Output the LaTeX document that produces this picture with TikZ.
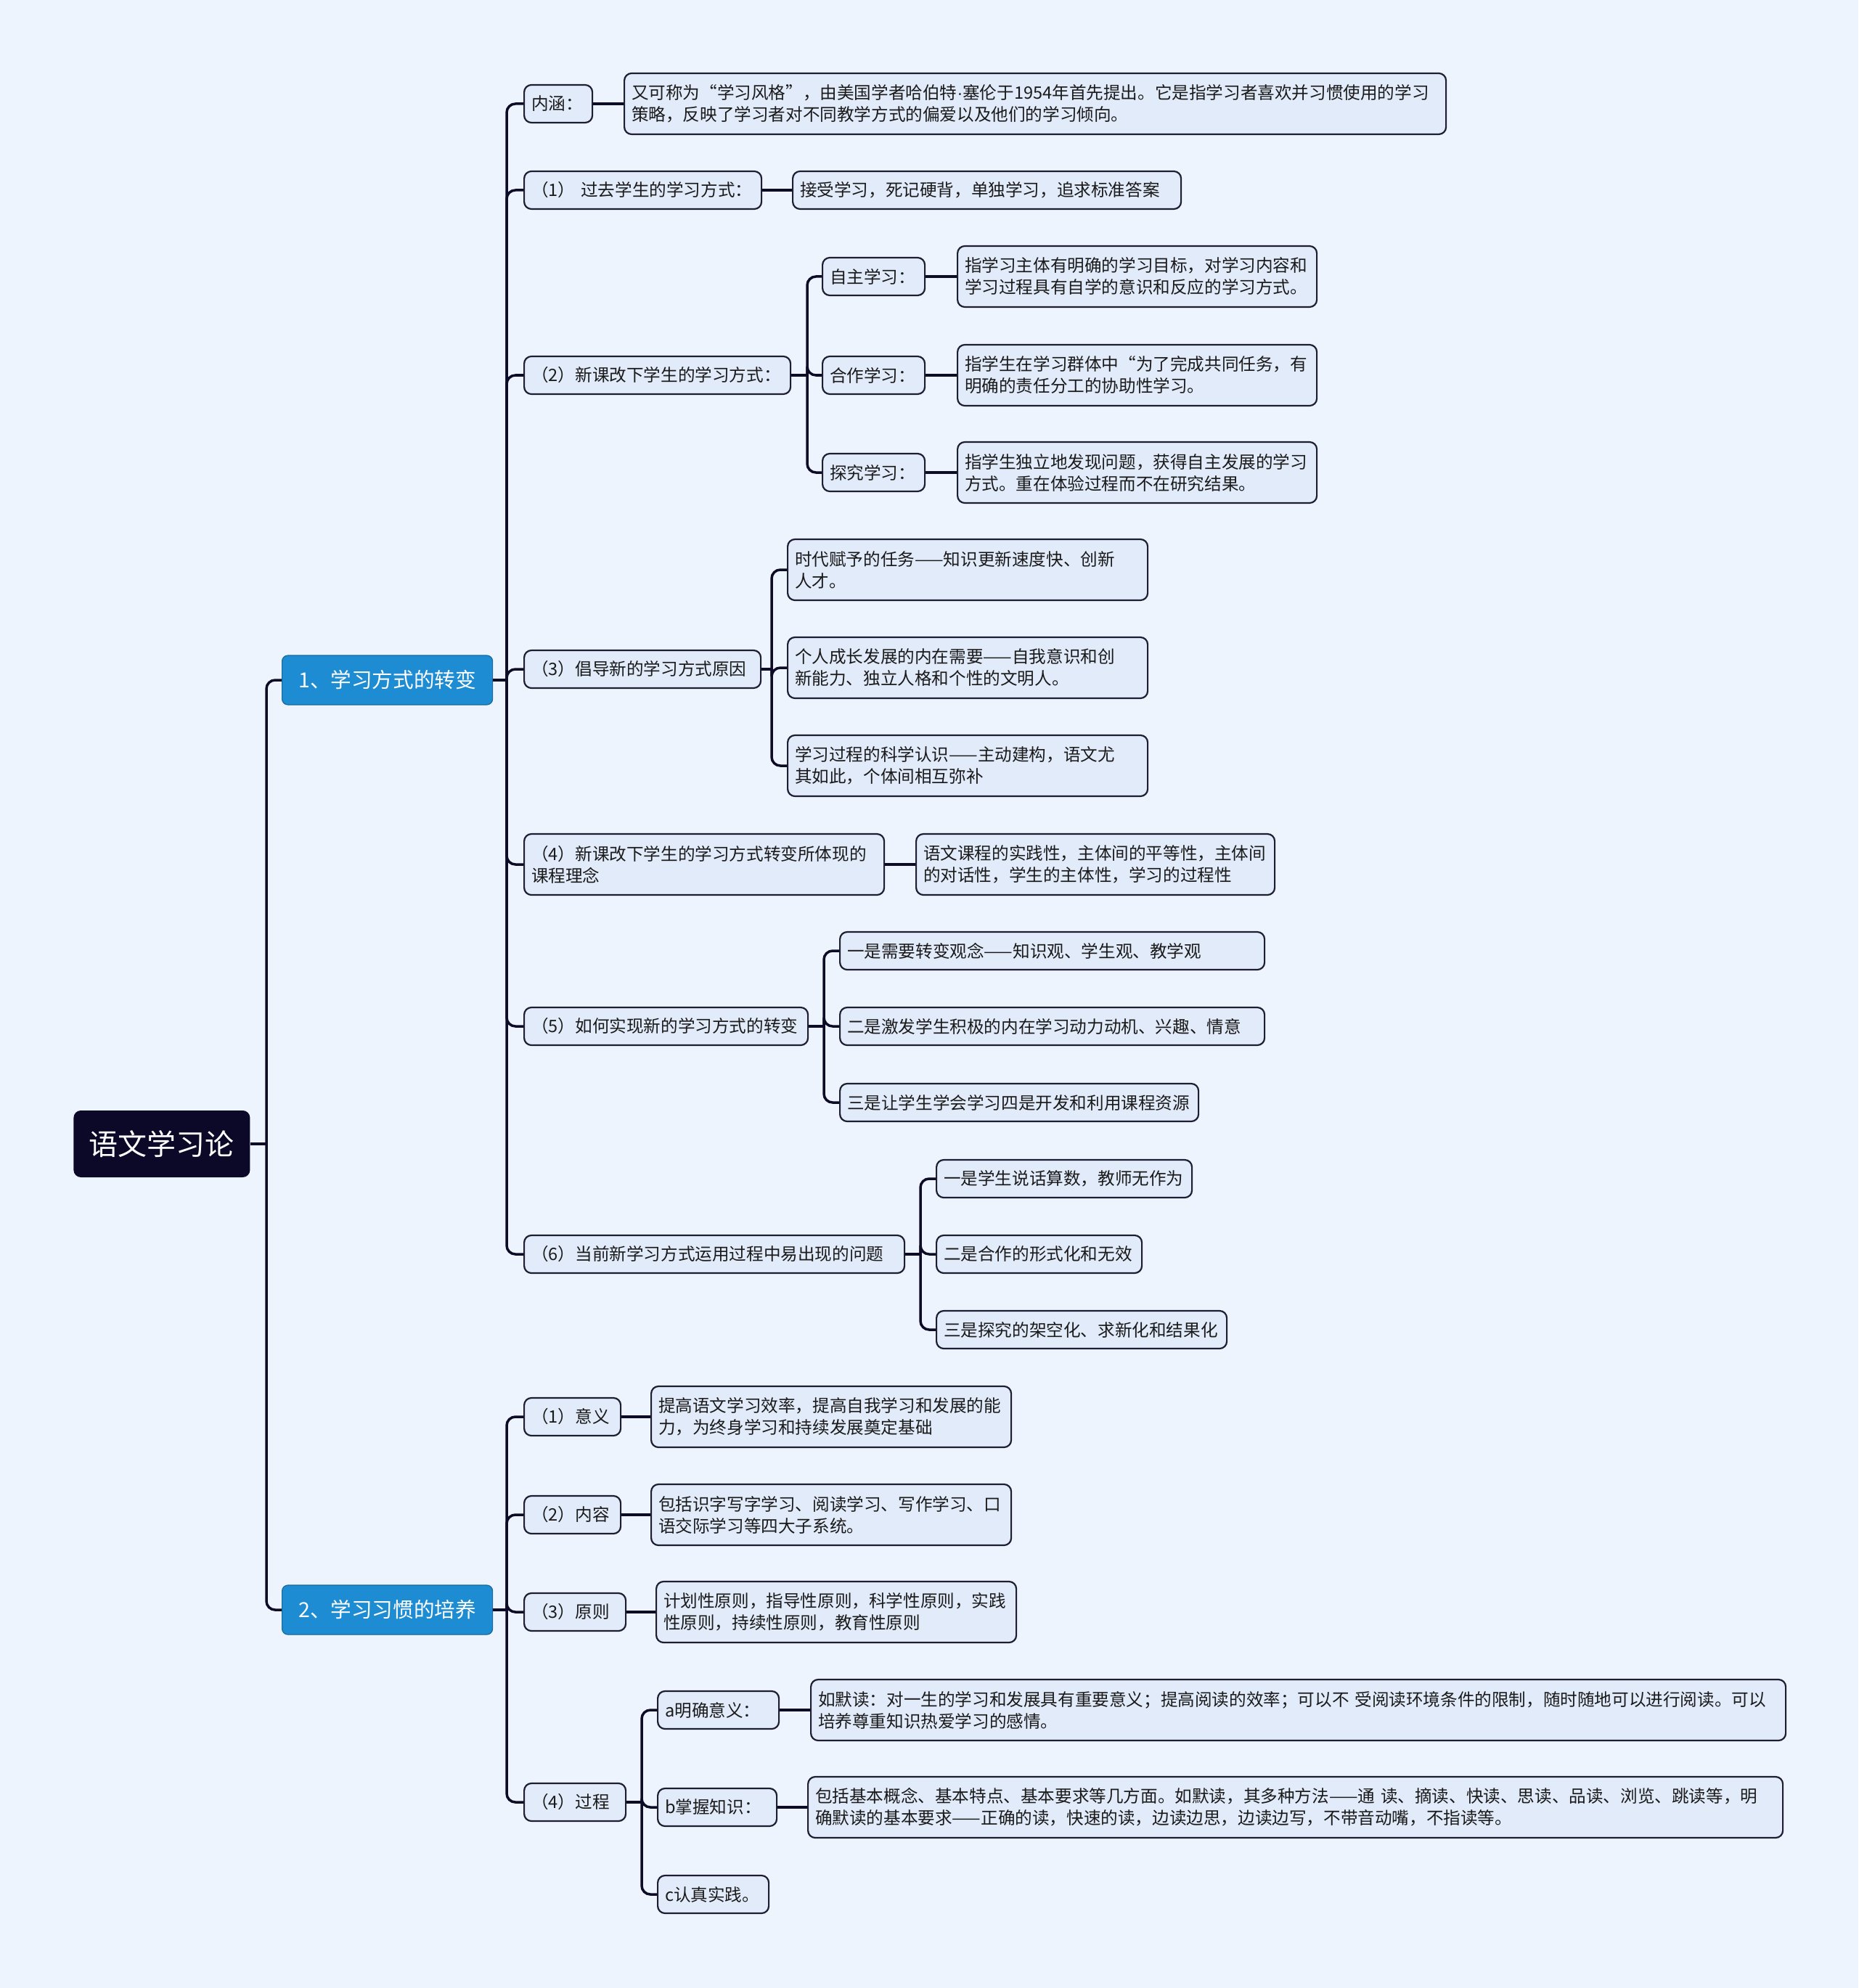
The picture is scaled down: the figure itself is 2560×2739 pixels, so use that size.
\documentclass[tikz,border=0pt]{standalone}
\usepackage{fontspec}
\setmainfont{Noto Sans CJK SC}
\newfontfamily\latinfont{Liberation Sans}

\definecolor{bgc}{HTML}{EEF4FE}
\definecolor{boxc}{HTML}{E2EBFA}
\definecolor{edgec}{HTML}{1E1E32}
\definecolor{linec}{HTML}{0D0B26}
\definecolor{rootc}{HTML}{0C0828}
\definecolor{topc}{HTML}{1D8CD2}
\definecolor{txtc}{HTML}{1A1A1A}

\begin{document}
\begin{tikzpicture}[
    x=0.5pt, y=-0.5pt,
    nd/.style={draw=edgec, line width=1.1pt, fill=boxc, rounded corners=5pt, anchor=west,
        inner xsep=5pt, inner ysep=2pt, minimum height=26pt, align=left, text=txtc,
        font=\fontsize{11.8}{15}\selectfont},
    tall/.style={minimum height=42pt},
    wd/.style={text width=#1pt},
    rootnd/.style={fill=rootc, rounded corners=5pt, anchor=west, minimum width=121.5pt,
        minimum height=46pt, text=white, font=\fontsize{20}{24}\selectfont},
    topic/.style={draw=topc!75!black, line width=0.6pt, fill=topc, rounded corners=4pt, anchor=west,
        minimum width=145pt, minimum height=34pt, text=white, font=\fontsize{14.3}{17}\selectfont},
    link/.style={draw=linec, line width=1.75pt, rounded corners=6pt},
]

% Background / page size
\fill[bgc] (0,0) rectangle (2560,2739);

% Root
\node[rootnd] (root) at (101,1576) {语文学习论};

% Topics
\node[topic] (B1) at (388,937) {1、学习方式的转变};
\node[topic] (B2) at (388,2218) {2、学习习惯的培养};

% Topic 1: items
\node[nd, wd=37] (N0) at (721,143) {内涵：};
\node[nd, wd=153.5] (N1) at (721,262) {（1） 过去学生的学习方式：};
\node[nd, wd=173.5] (N2) at (721,517) {（2）新课改下学生的学习方式：};
\node[nd, wd=153] (N3) at (721,922) {（3）倡导新的学习方式原因};
\node[nd, tall, wd=238] (N4) at (721,1191) {（4）新课改下学生的学习方式转变所体现的\\课程理念};
\node[nd, wd=185.5] (N5) at (721,1414) {（5）如何实现新的学习方式的转变};
\node[nd, wd=252] (N6) at (721,1728) {（6）当前新学习方式运用过程中易出现的问题};

% Topic 1: details
\node[nd, tall, wd=556] (D0) at (859,143) {又可称为“学习风格”，由美国学者哈伯特{\latinfont ·}塞伦于1954年首先提出。它是指学习者喜欢并习惯使用的学习\\策略，反映了学习者对不同教学方式的偏爱以及他们的学习倾向。};
\node[nd, wd=257.5] (D1) at (1091,262) {接受学习，死记硬背，单独学习，追求标准答案};

\node[nd, wd=60.5] (S1) at (1132,381) {自主学习：};
\node[nd, wd=60.5] (S2) at (1132,517) {合作学习：};
\node[nd, wd=60.5] (S3) at (1132,651) {探究学习：};
\node[nd, tall, wd=237.5] (SD1) at (1318,381) {指学习主体有明确的学习目标，对学习内容和\\学习过程具有自学的意识和反应的学习方式。};
\node[nd, tall, wd=237.5] (SD2) at (1318,517) {指学生在学习群体中“为了完成共同任务，有\\明确的责任分工的协助性学习。};
\node[nd, tall, wd=237.5] (SD3) at (1318,651) {指学生独立地发现问题，获得自主发展的学习\\方式。重在体验过程而不在研究结果。};

\node[nd, tall, wd=238] (Y1) at (1084,785) {时代赋予的任务——知识更新速度快、创新\\人才。};
\node[nd, tall, wd=238] (Y2) at (1084,920) {个人成长发展的内在需要——自我意识和创\\新能力、独立人格和个性的文明人。};
\node[nd, tall, wd=238] (Y3) at (1084,1055) {学习过程的科学认识——主动建构，语文尤\\其如此，个体间相互弥补};

\node[nd, tall, wd=237] (D4) at (1261,1191) {语文课程的实践性，主体间的平等性，主体间\\的对话性，学生的主体性，学习的过程性};

\node[nd, wd=282.5] (W1) at (1156,1310) {一是需要转变观念——知识观、学生观、教学观};
\node[nd, wd=282.5] (W2) at (1156,1414) {二是激发学生积极的内在学习动力动机、兴趣、情意};
\node[nd, wd=237] (W3) at (1156,1519) {三是让学生学会学习四是开发和利用课程资源};

\node[nd, wd=166] (R1) at (1289,1624) {一是学生说话算数，教师无作为};
\node[nd, wd=131.5] (R2) at (1289,1728) {二是合作的形式化和无效};
\node[nd, wd=190] (R3) at (1289,1832) {三是探究的架空化、求新化和结果化};

% Topic 2: items
\node[nd, wd=56.5] (M1) at (721,1952) {（1）意义};
\node[nd, wd=56.5] (M2) at (721,2087) {（2）内容};
\node[nd, wd=60] (M3) at (721,2221) {（3）原则};
\node[nd, wd=60] (M4) at (721,2483) {（4）过程};

% Topic 2: details
\node[nd, tall, wd=238] (MD1) at (896,1952) {提高语文学习效率，提高自我学习和发展的能\\力，为终身学习和持续发展奠定基础};
\node[nd, tall, wd=238] (MD2) at (896,2087) {包括识字写字学习、阅读学习、写作学习、口\\语交际学习等四大子系统。};
\node[nd, tall, wd=238] (MD3) at (903,2221) {计划性原则，指导性原则，科学性原则，实践\\性原则，持续性原则，教育性原则};

\node[nd, wd=73.5] (Pa) at (905,2356) {a明确意义：};
\node[nd, wd=72] (Pb) at (905,2490) {b掌握知识：};
\node[nd, wd=66.5] (Pc) at (905,2610) {c认真实践。};
\node[nd, tall, wd=661.5] (PaD) at (1116,2356) {如默读：对一生的学习和发展具有重要意义；提高阅读的效率；可以不 受阅读环境条件的限制，随时随地可以进行阅读。可以\\培养尊重知识热爱学习的感情。};
\node[nd, tall, wd=661.5] (PbD) at (1112,2490) {包括基本概念、基本特点、基本要求等几方面。如默读，其多种方法——通 读、摘读、快读、思读、品读、浏览、跳读等，明\\确默读的基本要求——正确的读，快速的读，边读边思，边读边写，不带音动嘴，不指读等。};

% === CONNECTORS ===
% junctions
\coordinate (jR) at (367,1576);
\coordinate (jB1) at (698,937);
\coordinate (jB2) at (698,2218);
\coordinate (jN2) at (1112,517);
\coordinate (jN3) at (1063,922);
\coordinate (jN5) at (1135,1414);
\coordinate (jN6) at (1268,1728);
\coordinate (jM4) at (884,2483);

% root -> topics
\draw[link] (root.east) -- (jR);
\foreach \c in {B1,B2} \draw[link] (jR) |- (\c.west);

% topic 1 -> items
\draw[link] (B1.east) -- (jB1);
\foreach \c in {N0,N1,N2,N3,N4,N5,N6} \draw[link] (jB1) |- (\c.west);

% items -> details
\draw[link] (N0.east) -- (N0.east -| D0.west);
\draw[link] (N1.east) -- (D1.west);
\draw[link] (N4.east) -- (D4.west);
\draw[link] (N2.east) -- (jN2);
\foreach \c in {S1,S2,S3} \draw[link] (jN2) |- (\c.west);
\draw[link] (S1.east) -- (SD1.west);
\draw[link] (S2.east) -- (SD2.west);
\draw[link] (S3.east) -- (SD3.west);
\draw[link] (N3.east) -- (jN3);
\foreach \c in {Y1,Y2,Y3} \draw[link] (jN3) |- (\c.west);
\draw[link] (N5.east) -- (jN5);
\foreach \c in {W1,W2,W3} \draw[link] (jN5) |- (\c.west);
\draw[link] (N6.east) -- (jN6);
\foreach \c in {R1,R2,R3} \draw[link] (jN6) |- (\c.west);

% topic 2 -> items
\draw[link] (B2.east) -- (jB2);
\foreach \c in {M1,M2,M3,M4} \draw[link] (jB2) |- (\c.west);
\draw[link] (M1.east) -- (MD1.west);
\draw[link] (M2.east) -- (MD2.west);
\draw[link] (M3.east) -- (MD3.west);
\draw[link] (M4.east) -- (jM4);
\foreach \c in {Pa,Pb,Pc} \draw[link] (jM4) |- (\c.west);
\draw[link] (Pa.east) -- (PaD.west);
\draw[link] (Pb.east) -- (PbD.west);

\end{tikzpicture}
\end{document}
